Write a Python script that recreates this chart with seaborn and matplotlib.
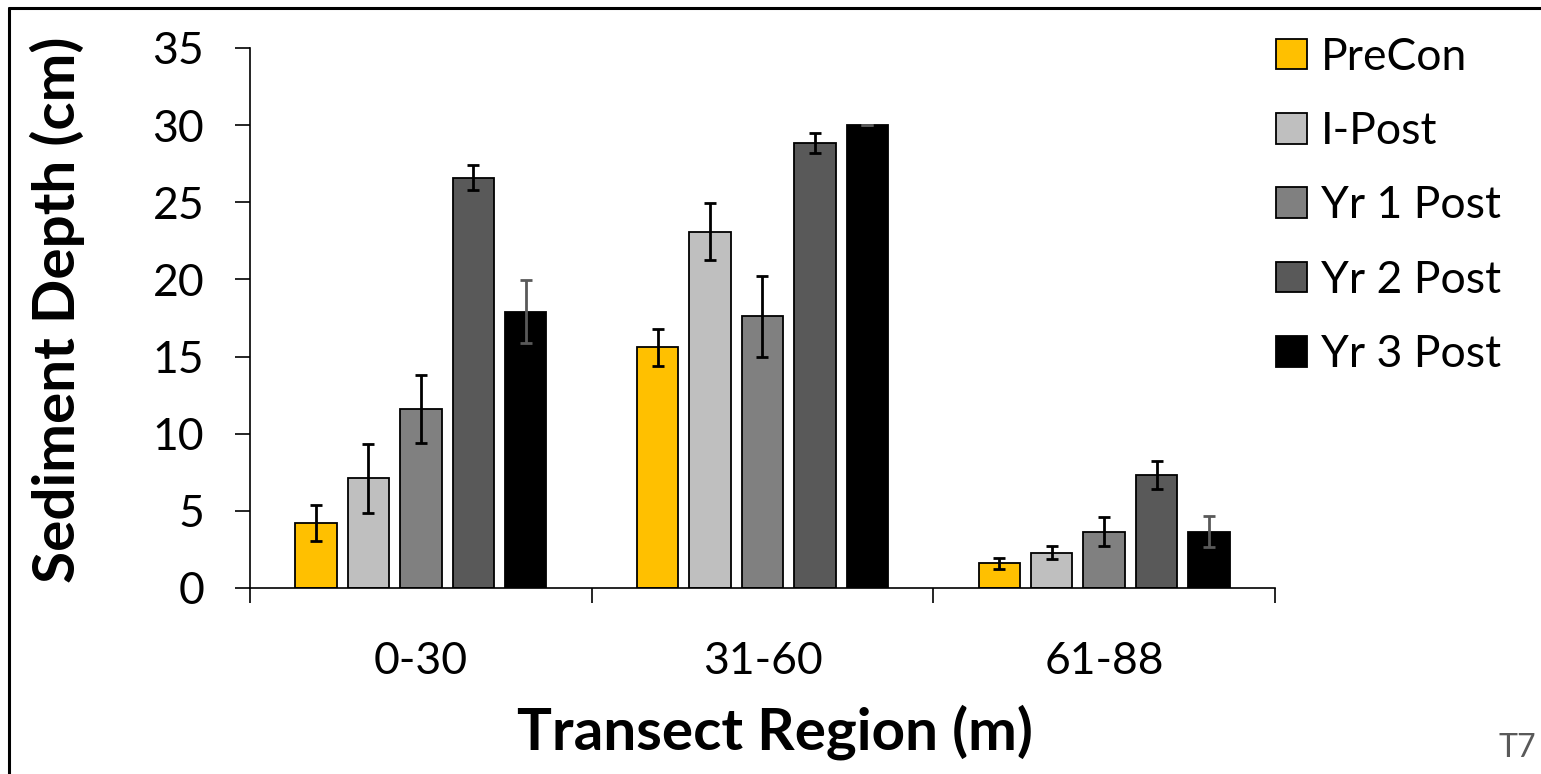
import pandas as pd
import matplotlib.pyplot as plt
import matplotlib.patches as mpatches
from matplotlib.lines import Line2D
import seaborn as sns

# data
regions = ["0-30", "31-60", "61-88"]
periods = ["PreCon", "I-Post", "Yr 1 Post", "Yr 2 Post", "Yr 3 Post"]
precon = [4.2, 15.6, 1.6]
ipost = [7.1, 23.1, 2.3]
yr1 = [11.6, 17.6, 3.65]
yr2 = [26.6, 28.85, 7.3]
yr3 = [17.9, 30.0, 3.65]
precon_err = [1.15, 1.2, 0.35]
ipost_err = [2.25, 1.85, 0.42]
yr1_err = [2.2, 2.6, 0.95]
yr2_err = [0.8, 0.65, 0.9]
yr3_err = [2.05, 0.0, 1.0]
colors = ["#FFC000", "#BFBFBF", "#808080", "#595959", "#000000"]
err_colors = ["black", "black", "black", "black", "#595959"]

values = [precon, ipost, yr1, yr2, yr3]
errors = [precon_err, ipost_err, yr1_err, yr2_err, yr3_err]
rows = []
for p, vals, errs in zip(periods, values, errors):
    for r, v, e in zip(regions, vals, errs):
        rows.append({"Region": r, "Period": p, "Depth": v, "Err": e})
df = pd.DataFrame(rows)

sns.set_theme(style="white")
plt.rcParams['font.family'] = ['Lato', 'DejaVu Sans']
plt.rcParams.update({"text.color": "black", "axes.labelcolor": "black",
                     "xtick.color": "black", "ytick.color": "black"})

fig = plt.figure(figsize=(15.41, 7.74), dpi=100)
ax = fig.add_axes([250 / 1541, 186 / 774, 1025 / 1541, 540 / 774])

sns.barplot(data=df, x="Region", y="Depth", hue="Period", order=regions,
            hue_order=periods, palette=colors, width=0.766, gap=0.21,
            edgecolor="black", linewidth=1.3, saturation=1, errorbar=None,
            legend=False, ax=ax)

# error bars at the bar centres
for i, p in enumerate(periods):
    bars = ax.containers[i]
    sub = df[df["Period"] == p].set_index("Region").loc[regions]
    xs = [b.get_x() + b.get_width() / 2 for b in bars]
    ax.errorbar(xs, sub["Depth"], yerr=sub["Err"], fmt="none",
                ecolor=err_colors[i], elinewidth=2.0, capsize=4, capthick=2.0,
                zorder=5)

ax.set_ylim(0, 35)
ax.set_xlim(-0.5, 2.5)
ax.set_yticks(range(0, 36, 5))
ax.tick_params(axis="y", labelsize=32, length=11, width=1.2, direction="out",
               left=True, pad=22, colors="black")
ax.set_xticks([-0.5, 0.5, 1.5, 2.5], minor=True)
ax.tick_params(axis="x", which="major", length=0, labelsize=32, pad=38,
               colors="black")
ax.tick_params(axis="x", which="minor", length=11, width=1.2,
               direction="out", bottom=True, colors="black")
for s in ["top", "right"]:
    ax.spines[s].set_visible(False)
for s in ["left", "bottom"]:
    ax.spines[s].set_color("black")
    ax.spines[s].set_linewidth(1.2)

ax.set_xlabel("Transect Region (m)", fontsize=42, fontweight="bold",
              color="black")
ax.xaxis.set_label_coords(0.512, -0.215)
ax.set_ylabel("Sediment Depth (cm)", fontsize=42, fontweight="bold",
              color="black")
ax.yaxis.label.set_verticalalignment("center")
ax.yaxis.set_label_coords(-0.188, 0.515)

handles = [mpatches.Patch(facecolor=c, edgecolor="black", linewidth=1.3)
           for c in colors]
ax.legend(handles, periods, loc="upper left", bbox_to_anchor=(0.984, 1.054),
          frameon=False, fontsize=32, handlelength=0.68, handleheight=0.68,
          handletextpad=0.32, labelspacing=0.75, borderaxespad=0.0,
          labelcolor="black")

fig.text(1517 / 1541, 1 - 748 / 774, "T7", fontsize=23, color="#595959",
         ha="center", va="center")

# frame around the figure (left and top edges visible)
fig.add_artist(Line2D([9 / 1541, 9 / 1541], [0, 1 - 8 / 774],
                      transform=fig.transFigure, color="black", linewidth=2.2))
fig.add_artist(Line2D([9 / 1541, 1], [1 - 8 / 774, 1 - 8 / 774],
                      transform=fig.transFigure, color="black", linewidth=2.2))

fig.savefig("out.png", dpi=100)
